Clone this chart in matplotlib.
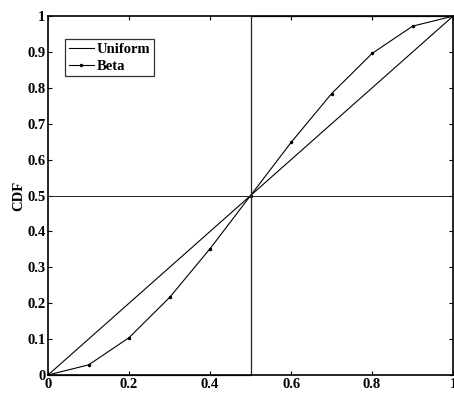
import matplotlib
matplotlib.use("Agg")
import matplotlib.pyplot as plt

x_uniform = [0.0, 1.0]
y_uniform = [0.0, 1.0]

x_beta = [0.0, 0.1, 0.2, 0.3, 0.4, 0.5, 0.6, 0.7, 0.8, 0.9, 1.0]
y_beta = [0.0, 0.028, 0.104, 0.216, 0.352, 0.5, 0.648, 0.784, 0.896, 0.972, 1.0]

# point-mass CDF at 0.5 and the median reference line
x_step = [0.0, 0.5, 0.5, 1.0]
y_step = [0.0, 0.0, 1.0, 1.0]
x_half = [0.0, 1.0]
y_half = [0.5, 0.5]

x_ticks = [0, 0.2, 0.4, 0.6, 0.8, 1]
y_ticks = [0, 0.1, 0.2, 0.3, 0.4, 0.5, 0.6, 0.7, 0.8, 0.9, 1]

plt.rcParams["font.family"] = ["Liberation Serif", "DejaVu Serif"]
plt.rcParams["font.weight"] = "bold"

fig = plt.figure(figsize=(4.54, 3.93), dpi=100)
ax = fig.add_axes([0.106, 0.046, 0.892, 0.913])

ax.plot(x_uniform, y_uniform, color="black", linewidth=0.8, label="Uniform")
ax.plot(x_beta, y_beta, color="black", linewidth=0.8, marker=".", markersize=3, label="Beta")
ax.plot(x_step, y_step, color="#222222", linewidth=0.9, clip_on=False)
ax.plot(x_half, y_half, color="#222222", linewidth=0.7)

ax.set_xlim(0, 1)
ax.set_ylim(0, 1)
ax.set_xticks(x_ticks)
ax.set_xticklabels(["0", "0.2", "0.4", "0.6", "0.8", "1"])
ax.set_yticks(y_ticks)
ax.set_yticklabels(["0", "0.1", "0.2", "0.3", "0.4", "0.5", "0.6", "0.7", "0.8", "0.9", "1"])
ax.tick_params(direction="in", top=True, right=True, length=3, width=0.8,
               labelsize=10.5, pad=2)
for lbl in ax.get_xticklabels() + ax.get_yticklabels():
    lbl.set_fontweight("bold")
for s in ax.spines.values():
    s.set_linewidth(1.2)

ax.set_ylabel("CDF", fontsize=10.5, fontweight="bold", labelpad=1)

leg = ax.legend(loc="upper left", bbox_to_anchor=(0.042, 0.936), fontsize=10.5,
                frameon=True, fancybox=False, edgecolor="black",
                handlelength=1.7, borderpad=0.25, labelspacing=0.25,
                handletextpad=0.2, borderaxespad=0)
leg.get_frame().set_linewidth(0.9)
for t in leg.get_texts():
    t.set_fontweight("bold")

fig.savefig("out.png", dpi=100)
